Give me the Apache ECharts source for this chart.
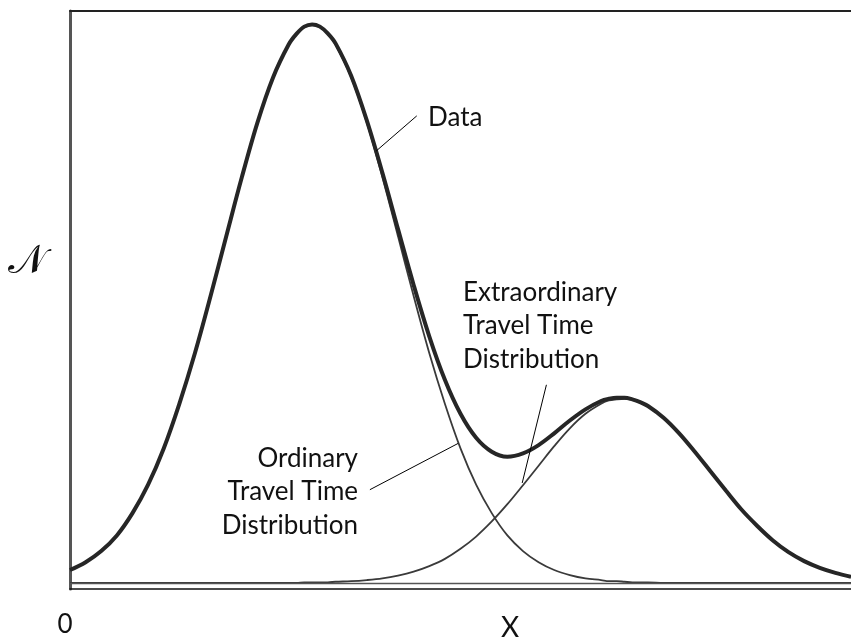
<!DOCTYPE html>
<html><head><meta charset="utf-8">
<script src="https://cdn.jsdelivr.net/npm/echarts@6/dist/echarts.min.js"></script>
<style>html,body{margin:0;padding:0;background:#fff}#c{width:851px;height:640px}</style>
</head><body><div id="c"></div>
<script>
// x positions (arbitrary units, axis 0..100)
const xValues = [0,2,4,6,8,10,12,14,16,18,20,22,24,26,28,29,30,31,32,33,34,36,38,40,42,44,46,48,50,52,54,56,58,60,62,64,66,68,69,70,71,72,73,74,76,78,80,82,84,86,88,90,92,94,96,98,100];
// Ordinary travel time distribution
const ordinaryValues = [2.3,3.7,5.7,8.5,12.5,17.6,24.1,32.1,41.2,51.4,62.1,72.7,82.5,90.6,96.5,98.4,99.6,100,99.6,98.4,96.5,90.6,82.5,72.7,62.1,51.4,41.2,32.1,24.1,17.6,12.5,8.5,5.7,3.7,2.3,1.4,0.8,0.5,0.3,0.3,0.2,0.1,0.1,0.1,0,0,0,0,0,0,0,0,0,0,0,0,0];
// Extraordinary travel time distribution
const extraValues = [0,0,0,0,0,0,0,0,0,0,0,0,0,0,0,0,0.1,0.1,0.1,0.1,0.2,0.3,0.5,0.8,1.3,2.0,3.0,4.3,6.1,8.3,11.0,14.1,17.5,21.0,24.5,27.7,30.3,32.1,32.7,32.9,33.0,32.8,32.3,31.6,29.6,26.8,23.5,20.0,16.5,13.1,10.2,7.6,5.5,3.9,2.7,1.8,1.1];
// Observed data (sum of both)
const dataValues = [2.3,3.7,5.7,8.5,12.5,17.6,24.1,32.1,41.2,51.4,62.1,72.7,82.5,90.6,96.5,98.4,99.7,100.1,99.7,98.5,96.7,90.9,82.9,73.5,63.4,53.4,44.2,36.4,30.3,26.0,23.5,22.6,23.2,24.7,26.8,29.1,31.1,32.6,33.0,33.2,33.2,32.9,32.4,31.7,29.6,26.8,23.5,20.0,16.5,13.1,10.2,7.6,5.5,3.9,2.7,1.8,1.1];
// Axis ranges
const xRange = [0, 100];
const yRange = [-1.1, 102.5];
// Leader lines (data coordinates): [from, to]
const dataLeader = [[44.4, 83.7], [39.2, 77.4]];
const extraLeader = [[61.0, 35.5], [57.9, 17.9]];
const ordinaryLeader = [[38.4, 16.7], [49.7, 25.0]];
// Text
const labelData = 'Data';
const labelExtra = ['Extraordinary', 'Travel Time', 'Distribution'];
const labelOrdinary = ['Ordinary', 'Travel Time', 'Distribution'];
const axisOrigin = '0';
const axisXName = 'X';
const axisYName = '\u{1D4A9}';

const chart = echarts.init(document.getElementById('c'), null, {renderer: 'canvas'});
const pairs = v => xValues.map((x, i) => [x, v[i]]);
const FONT = '26px Lato, "Open Sans", sans-serif';
const txt = (text, x, y, align, font) => ({
  type: 'text', x: x, y: y, silent: true,
  style: {text: text, font: font || FONT, fill: '#111', textAlign: align, align: align, textVerticalAlign: 'middle', verticalAlign: 'middle'}
});
const leader = p => [{coord: p[0]}, {coord: p[1]}];

const graphics = [
  txt(labelData, 428, 118, 'left'),
  txt(labelExtra[0], 463, 292.5, 'left'),
  txt(labelExtra[1], 463, 326, 'left'),
  txt(labelExtra[2], 463, 359.5, 'left'),
  txt(labelOrdinary[0], 358, 458.5, 'right'),
  txt(labelOrdinary[1], 358, 492, 'right'),
  txt(labelOrdinary[2], 358, 525.5, 'right'),
  txt(axisOrigin, 65, 624.5, 'center', '26px Lato, "Open Sans", sans-serif'),
  txt(axisXName, 510, 628, 'center', '28px Lato, "Open Sans", sans-serif'),
  txt(axisYName, 27, 263, 'center', '40px "DejaVu Serif", "DejaVu Sans", serif')
];

const hidden = {axisTick: {show: false}, axisLabel: {show: false}, splitLine: {show: false}};
chart.setOption({
  animation: false,
  backgroundColor: '#fff',
  grid: {left: 70, right: 0, top: 11, bottom: 51, containLabel: false},
  xAxis: [
    Object.assign({type: 'value', min: xRange[0], max: xRange[1], position: 'bottom',
      axisLine: {show: true, onZero: false, lineStyle: {color: '#111', width: 1.6}}}, hidden),
    Object.assign({type: 'value', min: xRange[0], max: xRange[1], position: 'top',
      axisLine: {show: true, onZero: false, lineStyle: {color: '#222', width: 2}}}, hidden)
  ],
  yAxis: Object.assign({type: 'value', min: yRange[0], max: yRange[1],
    axisLine: {show: true, onZero: false, lineStyle: {color: '#555', width: 3}}}, hidden),
  series: [
    {name: 'Ordinary', type: 'line', data: pairs(ordinaryValues), smooth: 0.35, showSymbol: false, z: 2,
      lineStyle: {color: '#3a3a3a', width: 1.8}, silent: true},
    {name: 'Extraordinary', type: 'line', data: pairs(extraValues), smooth: 0.35, showSymbol: false, z: 2,
      lineStyle: {color: '#3a3a3a', width: 1.8}, silent: true},
    {name: 'Data', type: 'line', data: pairs(dataValues), smooth: 0.35, showSymbol: false, z: 3,
      lineStyle: {color: '#262626', width: 4}, silent: true,
      markLine: {silent: true, symbol: 'none', label: {show: false}, animation: false,
        lineStyle: {type: 'solid', color: '#000', width: 1},
        data: [
          {yAxis: 0, lineStyle: {color: '#555', width: 1.3, type: 'solid'}},
          leader(dataLeader), leader(extraLeader), leader(ordinaryLeader)
        ]}}
  ],
  graphic: graphics
});
</script></body></html>
